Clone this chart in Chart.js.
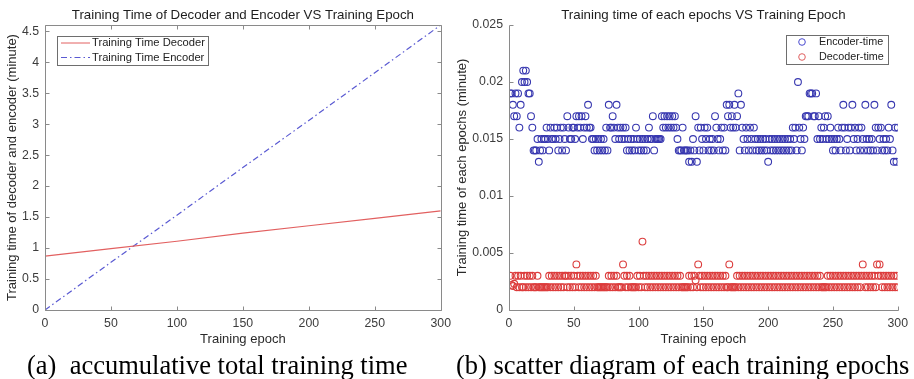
<!DOCTYPE html>
<html><head><meta charset="utf-8">
<script src="https://cdn.jsdelivr.net/npm/chart.js@4"></script>
<style>
html,body{margin:0;padding:0;background:#fff;width:914px;height:379px;overflow:hidden;position:relative;font-family:"Liberation Sans",Arial,sans-serif}
canvas{position:absolute;top:0}
#ca{left:0}
#cb{left:450px}
.cap{position:absolute;top:349px;font-family:"Liberation Serif","Times New Roman",serif;font-size:26.5px;color:#000;white-space:pre;line-height:32px}
</style></head>
<body>
<canvas id="ca" width="457" height="350"></canvas>
<canvas id="cb" width="464" height="350"></canvas>
<div class="cap" style="left:27px">(a)  accumulative total training time</div>
<div class="cap" style="left:456px">(b) scatter diagram of each training epochs</div>
<script>
// ---- data ----
const lineEpochs = [0, 50, 100, 150, 200, 250, 300];
const decoderTotal = [0.87, 0.99, 1.11, 1.24, 1.36, 1.48, 1.60];
const encoderTotal = [0, 0.77, 1.53, 2.30, 3.06, 3.83, 4.60];

const xTicks = [0, 50, 100, 150, 200, 250, 300];
const yTicksLeft = [0, 0.5, 1, 1.5, 2, 2.5, 3, 3.5, 4, 4.5];
const yTicksRight = [0, 0.005, 0.01, 0.015, 0.02, 0.025];

const encoderTime = [
0.019,0.019,0.018,0.017,0.019,0.017,0.019,0.016,0.018,0.020,
0.021,0.020,0.021,0.020,0.019,0.019,0.017,0.016,0.014,0.014,
0.014,0.015,0.013,0.014,0.015,0.014,0.015,0.015,0.016,0.015,
0.014,0.016,0.015,0.015,0.016,0.015,0.016,0.014,0.015,0.016,
0.014,0.016,0.015,0.014,0.017,0.016,0.015,0.015,0.016,0.016,
0.015,0.017,0.016,0.017,0.016,0.017,0.015,0.016,0.017,0.016,
0.018,0.016,0.016,0.015,0.015,0.014,0.015,0.014,0.015,0.014,
0.015,0.014,0.015,0.014,0.016,0.014,0.018,0.016,0.016,0.017,
0.016,0.015,0.018,0.016,0.015,0.016,0.015,0.016,0.015,0.016,
0.014,0.015,0.014,0.015,0.014,0.015,0.014,0.016,0.015,0.014,
0.015,0.014,0.015,0.014,0.015,0.014,0.015,0.016,0.015,0.015,
0.017,0.014,0.015,0.015,0.015,0.015,0.015,0.017,0.016,0.017,
0.016,0.017,0.016,0.017,0.016,0.017,0.016,0.017,0.016,0.015,
0.014,0.014,0.014,0.016,0.014,0.014,0.014,0.014,0.013,0.014,
0.013,0.015,0.014,0.017,0.013,0.016,0.014,0.016,0.015,0.014,
0.016,0.015,0.016,0.014,0.015,0.014,0.015,0.014,0.017,0.016,
0.015,0.014,0.015,0.016,0.014,0.016,0.014,0.018,0.017,0.018,
0.016,0.017,0.016,0.018,0.016,0.017,0.019,0.014,0.018,0.016,
0.015,0.014,0.016,0.015,0.014,0.016,0.015,0.014,0.016,0.015,
0.014,0.015,0.014,0.015,0.014,0.015,0.014,0.015,0.014,0.013,
0.015,0.014,0.015,0.014,0.015,0.014,0.015,0.014,0.015,0.014,
0.015,0.014,0.015,0.014,0.015,0.014,0.015,0.014,0.016,0.015,
0.016,0.014,0.020,0.016,0.015,0.014,0.016,0.015,0.017,0.017,
0.017,0.019,0.019,0.019,0.017,0.017,0.019,0.015,0.017,0.015,
0.016,0.015,0.016,0.017,0.015,0.017,0.015,0.016,0.015,0.014,
0.015,0.014,0.015,0.016,0.015,0.014,0.016,0.018,0.016,0.014,
0.015,0.016,0.014,0.016,0.018,0.015,0.016,0.014,0.015,0.016,
0.014,0.016,0.015,0.014,0.018,0.015,0.014,0.015,0.014,0.015,
0.014,0.018,0.016,0.014,0.016,0.015,0.016,0.014,0.015,0.014,
0.015,0.014,0.016,0.015,0.018,0.014,0.013,0.016,0.013,0.016
];

const decoderTime = [
0.003,0.0022,0.0021,0.0023,0.003,0.002,0.003,0.002,0.003,0.002,
0.002,0.003,0.002,0.003,0.002,0.003,0.002,0.003,0.002,0.002,
0.002,0.003,0.002,0.002,0.002,0.002,0.002,0.002,0.002,0.002,
0.003,0.002,0.003,0.002,0.003,0.002,0.003,0.002,0.003,0.002,
0.003,0.002,0.003,0.003,0.002,0.003,0.002,0.003,0.002,0.003,
0.002,0.004,0.003,0.002,0.003,0.002,0.003,0.002,0.003,0.002,
0.003,0.002,0.003,0.002,0.003,0.002,0.003,0.002,0.002,0.002,
0.002,0.002,0.002,0.002,0.002,0.002,0.003,0.002,0.003,0.002,
0.003,0.002,0.003,0.002,0.002,0.002,0.002,0.004,0.003,0.002,
0.003,0.002,0.003,0.002,0.002,0.002,0.002,0.002,0.003,0.002,
0.003,0.002,0.006,0.003,0.002,0.003,0.002,0.003,0.002,0.003,
0.002,0.003,0.002,0.003,0.002,0.003,0.002,0.003,0.002,0.003,
0.002,0.003,0.002,0.003,0.002,0.003,0.002,0.003,0.002,0.003,
0.002,0.003,0.002,0.002,0.002,0.002,0.002,0.002,0.003,0.002,
0.003,0.002,0.003,0.0026,0.002,0.004,0.003,0.002,0.003,0.002,
0.003,0.002,0.003,0.002,0.003,0.002,0.003,0.002,0.003,0.002,
0.003,0.002,0.003,0.002,0.003,0.002,0.003,0.002,0.002,0.004,
0.002,0.002,0.002,0.002,0.002,0.003,0.002,0.003,0.002,0.003,
0.002,0.003,0.002,0.003,0.002,0.003,0.002,0.003,0.002,0.003,
0.002,0.003,0.002,0.003,0.002,0.003,0.002,0.003,0.002,0.003,
0.002,0.003,0.002,0.003,0.002,0.003,0.002,0.003,0.002,0.003,
0.002,0.003,0.002,0.003,0.002,0.003,0.002,0.003,0.002,0.003,
0.002,0.003,0.002,0.003,0.002,0.003,0.002,0.003,0.002,0.003,
0.002,0.003,0.002,0.003,0.002,0.003,0.002,0.003,0.002,0.003,
0.002,0.002,0.002,0.002,0.002,0.003,0.002,0.003,0.002,0.003,
0.002,0.003,0.002,0.003,0.002,0.003,0.002,0.003,0.002,0.003,
0.002,0.003,0.002,0.003,0.002,0.003,0.002,0.003,0.002,0.003,
0.002,0.003,0.004,0.003,0.002,0.003,0.002,0.003,0.002,0.003,
0.002,0.003,0.002,0.004,0.003,0.004,0.003,0.002,0.003,0.002,
0.003,0.002,0.003,0.002,0.003,0.002,0.003,0.002,0.003,0.002
];

// ---- styling ----
const FONT = '"Liberation Sans", Arial, sans-serif';
const AXIS = '#8a8a8a';
const TXT = '#3c3c3c';
const BLUE_LINE = '#5a5ad2';
const RED_LINE = '#e26060';
const BLUE_PT = '#3838b0';
const RED_PT = '#dc3c3c';

const framePlugin = {
  id: 'frame',
  afterDraw(chart, args, o) {
    const {ctx, chartArea: a, scales: {x, y}} = chart;
    ctx.save();
    ctx.strokeStyle = AXIS; ctx.lineWidth = 1;
    const L = Math.round(a.left) + 0.5, R = Math.round(a.right) + 0.5;
    const T = Math.round(a.top) + 0.5, B = Math.round(a.bottom) + 0.5;
    ctx.beginPath();
    ctx.moveTo(L, T); ctx.lineTo(L, B); ctx.lineTo(R, B);
    if (o.box) { ctx.lineTo(R, T); ctx.lineTo(L, T); }
    const tl = 4;
    x.ticks.forEach(t => {
      const p = Math.round(x.getPixelForValue(t.value)) + 0.5;
      ctx.moveTo(p, B); ctx.lineTo(p, B - tl);
      if (o.box) { ctx.moveTo(p, T); ctx.lineTo(p, T + tl); }
    });
    y.ticks.forEach(t => {
      const p = Math.round(y.getPixelForValue(t.value)) + 0.5;
      ctx.moveTo(L, p); ctx.lineTo(L + tl, p);
      if (o.box) { ctx.moveTo(R, p); ctx.lineTo(R - tl, p); }
    });
    ctx.stroke();
    // title centred over the plot area
    ctx.fillStyle = '#1e1e1e';
    ctx.font = '13.3px ' + FONT;
    ctx.textAlign = 'center'; ctx.textBaseline = 'middle';
    ctx.fillText(o.title, (a.left + a.right) / 2, 15.5);
    // legend
    const lg = o.legend;
    ctx.fillStyle = '#fff';
    ctx.fillRect(lg.x, lg.y, lg.w, lg.h);
    ctx.strokeStyle = '#6e6e6e';
    ctx.strokeRect(lg.x + 0.5, lg.y + 0.5, lg.w, lg.h);
    ctx.font = lg.font + 'px ' + FONT;
    ctx.textAlign = 'left';
    lg.items.forEach((it, i) => {
      const cy = lg.y + lg.first + i * lg.gap;
      ctx.strokeStyle = it.color;
      if (it.kind === 'line') {
        ctx.setLineDash(it.dash || []);
        ctx.beginPath(); ctx.moveTo(lg.x + 4, cy + 0.5); ctx.lineTo(lg.x + 33, cy + 0.5); ctx.stroke();
        ctx.setLineDash([]);
      } else {
        ctx.beginPath(); ctx.arc(lg.x + 16, cy, 3.3, 0, Math.PI * 2); ctx.stroke();
      }
      ctx.fillStyle = '#222';
      ctx.fillText(it.text, lg.x + lg.tx, cy + 0.5);
    });
    ctx.restore();
  }
};

function fmt(v) { return String(Number(v.toFixed(4))); }

const tickFont = { family: FONT, size: 12.3 };
const axTitleFont = { family: FONT, size: 13 };

// ---- left chart ----
new Chart(document.getElementById('ca'), {
  type: 'line',
  data: {
    datasets: [
      { label: 'Training Time Decoder', data: lineEpochs.map((e, i) => ({x: e, y: decoderTotal[i]})),
        borderColor: RED_LINE, borderWidth: 1.2, pointRadius: 0, fill: false, tension: 0 },
      { label: 'Training Time Encoder', data: lineEpochs.map((e, i) => ({x: e, y: encoderTotal[i]})),
        borderColor: BLUE_LINE, borderWidth: 1.2, borderDash: [6, 3, 1.5, 3], pointRadius: 0, fill: false, tension: 0 }
    ]
  },
  options: {
    responsive: false, animation: false, devicePixelRatio: 1,
    layout: { padding: { top: 25, right: 16, left: 0, bottom: 0 } },
    plugins: {
      legend: { display: false }, tooltip: { enabled: false }, title: { display: false },
      frame: {
        box: true, title: 'Training Time of Decoder and Encoder VS Training Epoch',
        legend: { x: 57, y: 36, w: 151, h: 29, first: 6.5, gap: 14.5, tx: 35, font: 11.2,
          items: [
            { kind: 'line', color: RED_LINE, text: 'Training Time Decoder' },
            { kind: 'line', color: BLUE_LINE, dash: [6, 3, 1.5, 3], text: 'Training Time Encoder' }
          ] }
      }
    },
    scales: {
      x: {
        type: 'linear', min: 0, max: 300,
        afterBuildTicks: s => { s.ticks = xTicks.map(v => ({ value: v })); },
        afterFit: s => { s.height = 40; },
        grid: { display: false, drawTicks: false }, border: { display: false },
        ticks: { color: TXT, font: tickFont, padding: 6, maxRotation: 0, callback: v => fmt(v) },
        title: { display: true, text: 'Training epoch', color: '#2a2a2a', font: axTitleFont, padding: { top: 0, bottom: 3 } }
      },
      y: {
        type: 'linear', min: 0, max: 4.6,
        afterBuildTicks: s => { s.ticks = yTicksLeft.map(v => ({ value: v })); },
        afterFit: s => { s.width = 45; },
        grid: { display: false, drawTicks: false }, border: { display: false },
        ticks: { color: TXT, font: tickFont, padding: 6, callback: v => fmt(v) },
        title: { display: true, text: 'Training time of decoder and encoder (minute)', color: '#2a2a2a', font: axTitleFont, padding: { top: 5, bottom: 0 } }
      }
    }
  },
  plugins: [framePlugin]
});

// ---- right chart ----
new Chart(document.getElementById('cb'), {
  type: 'scatter',
  data: {
    datasets: [
      { label: 'Encoder-time', data: encoderTime.map((v, i) => ({x: i + 1, y: v})),
        borderColor: BLUE_PT, backgroundColor: 'rgba(0,0,0,0)', borderWidth: 1.1, pointRadius: 3.4, pointStyle: 'circle' },
      { label: 'Decoder-time', data: decoderTime.map((v, i) => ({x: i + 1, y: v})),
        borderColor: RED_PT, backgroundColor: 'rgba(0,0,0,0)', borderWidth: 1.1, pointRadius: 3.4, pointStyle: 'circle' }
    ]
  },
  options: {
    responsive: false, animation: false, devicePixelRatio: 1,
    layout: { padding: { top: 25, right: 16, left: 0, bottom: 0 } },
    plugins: {
      legend: { display: false }, tooltip: { enabled: false }, title: { display: false },
      frame: {
        box: false, title: 'Training time of each epochs VS Training Epoch',
        legend: { x: 336, y: 35, w: 102, h: 29, first: 7, gap: 15, tx: 33, font: 10.8,
          items: [
            { kind: 'circle', color: '#4a4ad0', text: 'Encoder-time' },
            { kind: 'circle', color: '#e06060', text: 'Decoder-time' }
          ] }
      }
    },
    scales: {
      x: {
        type: 'linear', min: 0, max: 300,
        afterBuildTicks: s => { s.ticks = xTicks.map(v => ({ value: v })); },
        afterFit: s => { s.height = 40; },
        grid: { display: false, drawTicks: false }, border: { display: false },
        ticks: { color: TXT, font: tickFont, padding: 6, maxRotation: 0, callback: v => fmt(v) },
        title: { display: true, text: 'Training epoch', color: '#2a2a2a', font: axTitleFont, padding: { top: 0, bottom: 3 } }
      },
      y: {
        type: 'linear', min: 0, max: 0.025,
        afterBuildTicks: s => { s.ticks = yTicksRight.map(v => ({ value: v })); },
        afterFit: s => { s.width = 59; },
        grid: { display: false, drawTicks: false }, border: { display: false },
        ticks: { color: TXT, font: tickFont, padding: 6, callback: v => fmt(v) },
        title: { display: true, text: 'Training time of each epochs (minute)', color: '#2a2a2a', font: axTitleFont, padding: { top: 5, bottom: 0 } }
      }
    }
  },
  plugins: [framePlugin]
});
</script>
</body></html>
